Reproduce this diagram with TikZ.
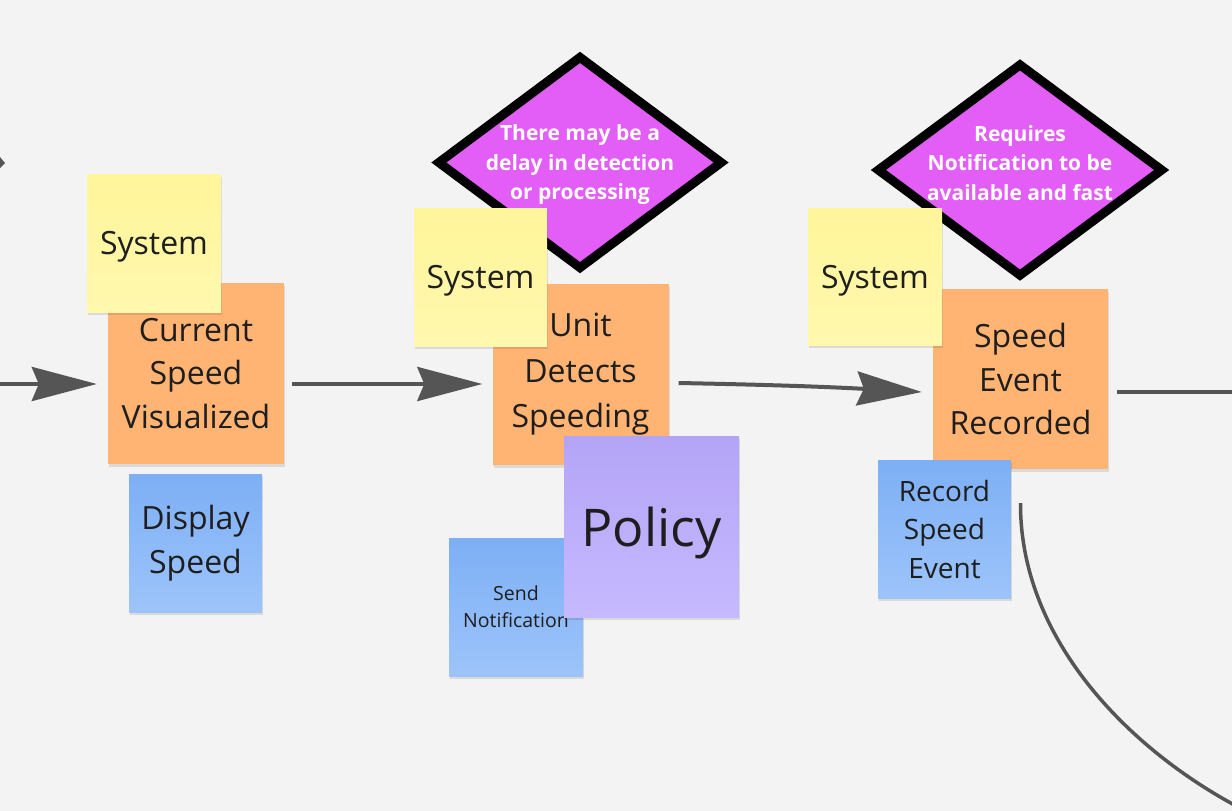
\documentclass[tikz,border=0pt]{standalone}
\usepackage{fontspec}
\setmainfont{Open Sans}
\usetikzlibrary{arrows.meta,shadows,calc,shapes.geometric}
\definecolor{bg}{HTML}{F3F3F3}
\definecolor{orangenote}{HTML}{FFB473}
\definecolor{yellowtop}{HTML}{FFF59A}
\definecolor{yellowbot}{HTML}{FFF8AE}
\definecolor{bluetop}{HTML}{7DAFF5}
\definecolor{bluebot}{HTML}{9DC4FA}
\definecolor{purpletop}{HTML}{B4A4F6}
\definecolor{purplebot}{HTML}{C7B9FF}
\definecolor{magentafill}{HTML}{E25EF6}
\definecolor{conn}{HTML}{555555}
\definecolor{ink}{HTML}{1E1E1E}
\tikzset{
  note/.style={rectangle, inner sep=0pt, align=center, text=ink,
    drop shadow={shadow xshift=1pt, shadow yshift=-3pt, opacity=0.10, fill=black}},
  orangebox/.style={note, fill=orangenote, minimum width=176pt, minimum height=181pt,
    font=\fontsize{32}{43.5}\selectfont},
  yellowbox/.style={note, top color=yellowtop, bottom color=yellowbot, text depth=0pt,
    minimum width=134pt, minimum height=138pt, font=\fontsize{32}{43.5}\selectfont},
  bluebox/.style={note, top color=bluetop, bottom color=bluebot,
    minimum width=133pt, minimum height=138pt},
  purplebox/.style={note, top color=purpletop, bottom color=purplebot, text depth=0pt,
    minimum width=175pt, minimum height=181pt, font=\fontsize{52}{70}\selectfont},
  decision/.style={diamond, draw=black, line width=9pt, fill=magentafill, inner sep=0pt},
  decisiontext/.style={align=center, text=white, font=\bfseries\fontsize{21}{29.5}\selectfont},
  flow/.style={draw=conn, line width=4pt, -{Stealth[length=65pt, width=34pt, inset=7pt]}},
  plainline/.style={draw=conn, line width=3.5pt},
}
\begin{document}
\begin{tikzpicture}[x=1pt, y=-1pt]
\useasboundingbox (0,0) rectangle (1232,811);
\clip (0,0) rectangle (1232,811);
\fill[bg] (0,0) rectangle (1232,811);

% decisions
\node[decision, minimum width=286pt, minimum height=214pt] (d1) at (580,162.5) {};
\node[decisiontext] (d1t) at (580,165) {There may be a\\delay in detection\\or processing};
\node[decision, minimum width=287pt, minimum height=214pt] (d2) at (1020,170) {};
\node[decisiontext] (d2t) at (1020,163) {Requires\\Notification to be\\available and fast};

% events
\node[orangebox] (csv) at (196,373.5) {Current\\Speed\\Visualized};
\node[orangebox, font=\fontsize{32}{45.5}\selectfont] (uds) at (580.5,374.5) {Unit\\Detects\\Speeding};
\node[orangebox, minimum width=175pt, minimum height=180pt] (ser) at (1020.5,379) {Speed\\Event\\Recorded};

% actors
\node[yellowbox] (sys1) at (154,243) {System};
\node[yellowbox, minimum width=133pt] (sys2) at (480.5,277) {System};
\node[yellowbox, minimum height=137pt] (sys3) at (875,276.5) {System};

% commands
\node[bluebox, font=\fontsize{32}{44}\selectfont] (ds) at (195.5,543) {Display\\Speed};
\node[bluebox, minimum width=134pt, font=\fontsize{19.5}{27}\selectfont] (sn) at (516,607) {Send\\Notification};
\node[purplebox] (pol) at (651.5,526.5) {Policy};
\node[bluebox, font=\fontsize{28}{38.5}\selectfont] (rse) at (944.5,529) {Record\\Speed\\Event};

% connectors
\coordinate (inl) at (-5,384);
\coordinate (outr) at (1240,392);
\coordinate (curveend) at (1240,808);
\fill[conn] (0,157) -- (5,163) -- (0,168) -- cycle;
\draw[flow] (inl) -- ($(csv.west)+(-11,10.5)$);
\draw[flow] ($(csv.east)+(8,10.5)$) -- ($(uds.west)+(-10,9.5)$);
\draw[flow] ($(uds.east)+(10,8.5)$) to[bend left=1] ($(ser.west)+(-11,13)$);
\draw[plainline] ($(ser.east)+(9,13)$) -- (outr);
\draw[plainline] ($(ser.south)+(0,34)$) .. controls (1020,640) and (1130,750) .. (curveend);
\end{tikzpicture}
\end{document}
